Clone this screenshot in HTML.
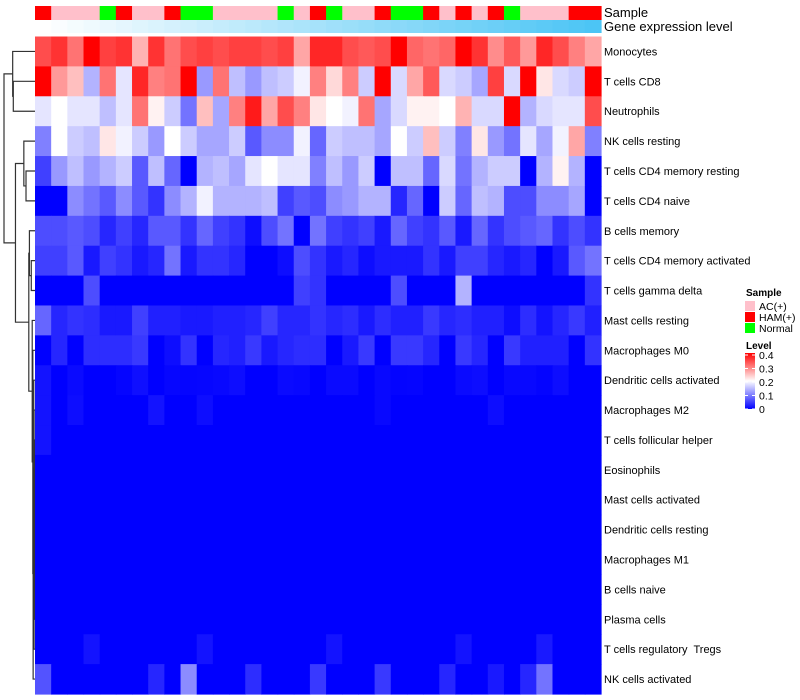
<!DOCTYPE html>
<html><head><meta charset="utf-8">
<style>
html,body{margin:0;padding:0;background:#fff;}
svg{display:block;font-family:"Liberation Sans",Arial,sans-serif;}
#labels text{white-space:pre;}
</style></head>
<body>
<svg id="chart" width="800" height="700" viewBox="0 0 800 700" xmlns="http://www.w3.org/2000/svg">
<g id="dendro"></g>
<g id="annot"></g>
<g id="cells"></g>
<g id="labels"></g>
<text x="604" y="17" font-size="13">Sample</text>
<text x="604" y="31" font-size="13">Gene expression level</text>
<g>
<text x="746" y="296" font-size="10" font-weight="bold">Sample</text>
<rect x="745" y="301" width="10" height="10" fill="#FFC0CB"/>
<text x="759" y="310" font-size="10.5">AC(+)</text>
<rect x="745" y="312" width="10" height="10" fill="#FF0000"/>
<text x="759" y="321" font-size="10.5">HAM(+)</text>
<rect x="745" y="323" width="10" height="10" fill="#00FF00"/>
<text x="759" y="332" font-size="10.5">Normal</text>
</g>
<g>
<defs><linearGradient id="lvl" x1="0" y1="1" x2="0" y2="0">
<stop offset="0" stop-color="#0000FF"/><stop offset="0.5" stop-color="#FFFFFF"/><stop offset="1" stop-color="#FF0000"/></linearGradient></defs>
<text x="746" y="349" font-size="10" font-weight="bold">Level</text>
<rect x="745" y="353" width="10" height="56" fill="url(#lvl)"/>
<g id="lvlticks"></g>
</g>
</svg>
<script>
const rowNames=["Monocytes","T cells CD8","Neutrophils","NK cells resting","T cells CD4 memory resting","T cells CD4 naive","B cells memory","T cells CD4 memory activated","T cells gamma delta","Mast cells resting","Macrophages M0","Dendritic cells activated","Macrophages M2","T cells follicular helper","Eosinophils","Mast cells activated","Dendritic cells resting","Macrophages M1","B cells naive","Plasma cells","T cells regulatory  Tregs","NK cells activated"];
const sampleGroups=["H","A","A","A","N","H","A","A","H","N","N","A","A","A","A","N","A","H","N","A","A","H","N","N","H","A","H","A","H","N","A","A","A","H","H"];
const geneLevel=[0,1,2,3,4,5,6,7,8,9,10,11,12,13,14,15,16,17,18,19,20,21,22,23,24,25,26,27,28,29,30,31,32,33,34];
const levelTicks=[0,0.1,0.2,0.3,0.4];
const r0=[0.34,0.36,0.31,0.40,0.35,0.36,0.26,0.36,0.31,0.34,0.35,0.34,0.35,0.35,0.34,0.35,0.27,0.37,0.37,0.34,0.33,0.34,0.40,0.32,0.31,0.32,0.40,0.36,0.29,0.33,0.28,0.37,0.34,0.30,0.27];
const r1=[0.40,0.28,0.25,0.14,0.31,0.18,0.37,0.30,0.31,0.40,0.12,0.31,0.15,0.12,0.15,0.16,0.19,0.30,0.23,0.30,0.16,0.40,0.17,0.27,0.33,0.17,0.16,0.13,0.35,0.17,0.40,0.22,0.17,0.16,0.40];
const r2=[0.18,0.20,0.18,0.18,0.15,0.18,0.31,0.21,0.16,0.09,0.25,0.13,0.30,0.38,0.27,0.34,0.30,0.22,0.20,0.19,0.31,0.13,0.17,0.21,0.21,0.20,0.26,0.17,0.17,0.40,0.14,0.17,0.18,0.18,0.34];
const r3=[0.10,0.20,0.16,0.15,0.22,0.19,0.16,0.12,0.20,0.16,0.13,0.13,0.16,0.07,0.11,0.11,0.19,0.08,0.16,0.15,0.15,0.13,0.20,0.16,0.25,0.16,0.10,0.22,0.12,0.09,0.18,0.13,0.19,0.27,0.10];
const r4=[0.05,0.12,0.15,0.12,0.14,0.16,0.07,0.15,0.08,0.00,0.14,0.15,0.13,0.18,0.20,0.18,0.18,0.10,0.15,0.12,0.16,0.00,0.15,0.15,0.08,0.17,0.09,0.14,0.16,0.16,0.00,0.14,0.21,0.14,0.00];
const r5=[0,0,0.11,0.09,0.07,0.11,0.07,0.04,0.11,0.14,0.19,0.14,0.14,0.14,0.15,0.05,0.07,0.06,0.11,0.12,0.14,0.14,0.03,0.08,0,0.16,0.08,0.15,0.14,0.06,0.06,0.11,0.11,0.13,0];
const r6=[0.06,0.06,0.07,0.06,0.03,0.05,0.03,0.07,0.07,0.04,0.08,0.05,0.04,0.01,0.06,0.09,0,0.09,0.05,0.04,0.05,0.02,0.08,0.05,0.04,0.07,0.02,0.08,0.04,0.06,0.07,0.08,0.04,0.06,0.04];
const r7=[0.05,0.05,0.07,0.02,0.05,0.04,0.02,0.03,0.09,0.02,0.04,0.04,0.03,0,0,0.01,0.06,0.04,0.02,0.03,0.01,0.02,0.02,0.02,0.04,0.02,0.05,0.05,0.03,0.02,0.03,0,0.02,0.07,0.09];
const r8=[0,0,0,0.06,0,0,0,0,0,0,0,0,0,0,0,0,0.05,0.04,0,0,0,0,0.06,0,0,0,0.14,0,0,0,0,0,0,0,0.04];
const r9=[0.08,0.03,0.04,0.035,0.02,0.02,0.05,0.025,0.025,0.02,0.02,0.025,0.025,0.03,0.05,0.03,0.03,0.04,0.03,0.035,0.02,0.035,0.025,0.025,0.045,0.03,0.035,0.025,0.025,0.01,0.035,0.015,0.03,0.045,0.025];
const r10=[0,0.03,0,0.035,0.035,0.035,0.045,0,0.01,0.04,0,0.03,0.025,0.045,0.02,0.03,0.035,0.035,0,0.02,0.045,0,0.045,0.045,0.03,0,0.045,0.03,0,0.045,0.025,0.025,0.025,0,0.04];
const r11=[0.015,0,0.008,0,0,0.004,0.012,0,0.005,0.004,0.005,0.006,0.01,0,0,0.008,0.006,0,0.008,0.008,0,0.006,0.003,0.004,0,0,0.008,0.01,0,0.006,0.006,0.003,0.01,0,0];
const r12=[0.015,0,0.01,0,0,0,0,0.015,0,0,0.01,0,0,0,0,0,0,0,0,0,0,0.006,0,0,0,0,0,0,0.01,0,0,0,0,0,0];
const r13=[0.015,0,0,0,0,0,0,0,0,0,0,0,0,0,0,0,0,0,0,0,0,0,0,0,0,0,0,0,0,0,0,0,0,0,0];
const r14=[0,0,0,0,0,0,0,0,0,0,0,0,0,0,0,0,0,0,0,0,0,0,0,0,0,0,0,0,0,0,0,0,0,0,0];
const r15=[0,0,0,0,0,0,0,0,0,0,0,0,0,0,0,0,0,0,0,0,0,0,0,0,0,0,0,0,0,0,0,0,0,0,0];
const r16=[0,0,0,0,0,0,0,0,0,0,0,0,0,0,0,0,0,0,0,0,0,0,0,0,0,0,0,0,0,0,0,0,0,0,0];
const r17=[0,0,0,0,0,0,0,0,0,0,0,0,0,0,0,0,0,0,0,0,0,0,0,0,0,0,0,0,0,0,0,0,0,0,0];
const r18=[0,0,0,0,0,0,0,0,0,0,0,0,0,0,0,0,0,0,0,0,0,0,0,0,0,0,0,0,0,0,0,0,0,0,0];
const r19=[0,0,0,0,0,0,0,0,0,0,0,0,0,0,0,0,0,0,0,0,0,0,0,0,0,0,0,0,0,0,0,0,0,0,0];
const r20=[0,0,0,0.015,0,0,0,0,0,0,0.015,0,0,0,0,0,0,0,0.015,0,0,0,0,0,0,0,0.015,0,0,0,0,0.02,0,0,0];
const r21=[0.065,0,0,0,0,0,0,0.03,0,0.11,0,0,0,0.035,0,0,0,0.045,0,0,0,0.045,0,0,0,0.03,0,0,0.02,0,0.03,0.09,0,0,0];
const values=[r0,r1,r2,r3,r4,r5,r6,r7,r8,r9,r10,r11,r12,r13,r14,r15,r16,r17,r18,r19,r20,r21];
const merges=[[1,2,0.70],[0,"n0",0.72],[4,5,0.29],[3,"n2",0.36],[7,8,0.12],[6,"n4",0.18],[14,15,0.0],[16,"n6",0.01],[17,"n7",0.01],[18,"n8",0.01],[19,"n9",0.02],[13,"n10",0.02],[12,"n11",0.03],[20,"n12",0.03],[11,"n13",0.04],[21,"n14",0.06],[10,"n15",0.07],[9,"n16",0.09],["n5","n17",0.2],["n3","n18",0.63],["n1","n19",1.0]];

const NS="http://www.w3.org/2000/svg";
const X0=35,X1=601,Y0=36.5,Y1=694;
const nC=r0.length,nR=values.length;
const cw=(X1-X0)/nC,rh=(Y1-Y0)/nR;
const xPos=c=>X0+c*cw, yPos=r=>Y0+r*rh;
const vmax=0.4;
function colorOf(v){
  let t=Math.max(0,Math.min(1,v/vmax));
  let r,g,b;
  if(t<0.5){const u=t/0.5;r=255*u;g=255*u;b=255;}
  else{const u=(t-0.5)/0.5;r=255;g=255*(1-u);b=255*(1-u);}
  return `rgb(${Math.round(r)},${Math.round(g)},${Math.round(b)})`;
}
function mk(tag,attrs,parent){const e=document.createElementNS(NS,tag);for(const k in attrs)e.setAttribute(k,attrs[k]);parent.appendChild(e);return e;}
const cells=document.getElementById('cells');
values.forEach((row,ri)=>row.forEach((v,ci)=>{
  const e=mk('rect',{x:xPos(ci),y:yPos(ri),width:cw+0.6,height:rh+0.6,fill:colorOf(v)},cells);
  
  
}));
const labels=document.getElementById('labels');
rowNames.forEach((n,ri)=>{
  const t=mk('text',{x:604,y:yPos(ri)+rh/2+4,'font-size':11},labels);
  t.textContent=n;
  
  
});
const annot=document.getElementById('annot');
const sCol={A:"#FFC0CB",H:"#FF0000",N:"#00FF00"};
sampleGroups.forEach((g,ci)=>{
  const e=mk('rect',{x:xPos(ci),y:6,width:cw+0.6,height:14,fill:sCol[g]},annot);
  
  
});
const gmax=Math.max(...geneLevel);
geneLevel.forEach((g,ci)=>{
  const t=g/gmax;
  const c=`rgb(${Math.round(255+(76-255)*t)},${Math.round(255+(197-255)*t)},${Math.round(255+(245-255)*t)})`;
  const e=mk('rect',{x:xPos(ci),y:20,width:cw+0.6,height:13,fill:c},annot);
  
  
});
const lt=document.getElementById('lvlticks');
levelTicks.forEach(v=>{
  const y=409-(v/vmax)*54;
  mk('line',{x1:745,x2:748,y1:y,y2:y,stroke:'#fff','stroke-width':1},lt);
  mk('line',{x1:752,x2:755,y1:y,y2:y,stroke:'#fff','stroke-width':1},lt);
  const t=mk('text',{x:759,y:y+4,'font-size':10.5},lt);
  t.textContent=String(v);
  
  
});
const dg=document.getElementById('dendro');
const DX0=4,DX1=35;
const hx=h=>DX1-(DX1-DX0)*h;
const nodes={};
function info(c){ if(typeof c==='number') return {y:yPos(c)+rh/2,h:0}; return nodes[c]; }
merges.forEach((m,k)=>{
  const a=info(m[0]),b=info(m[1]),h=m[2];
  const x=hx(h);
  const p=mk('path',{d:`M${hx(a.h)},${a.y}H${x}V${b.y}H${hx(b.h)}`,fill:'none',stroke:'#333','stroke-width':1.2},dg);
  
  
  nodes['n'+k]={y:(a.y+b.y)/2,h:h};
});
</script>
</body></html>
